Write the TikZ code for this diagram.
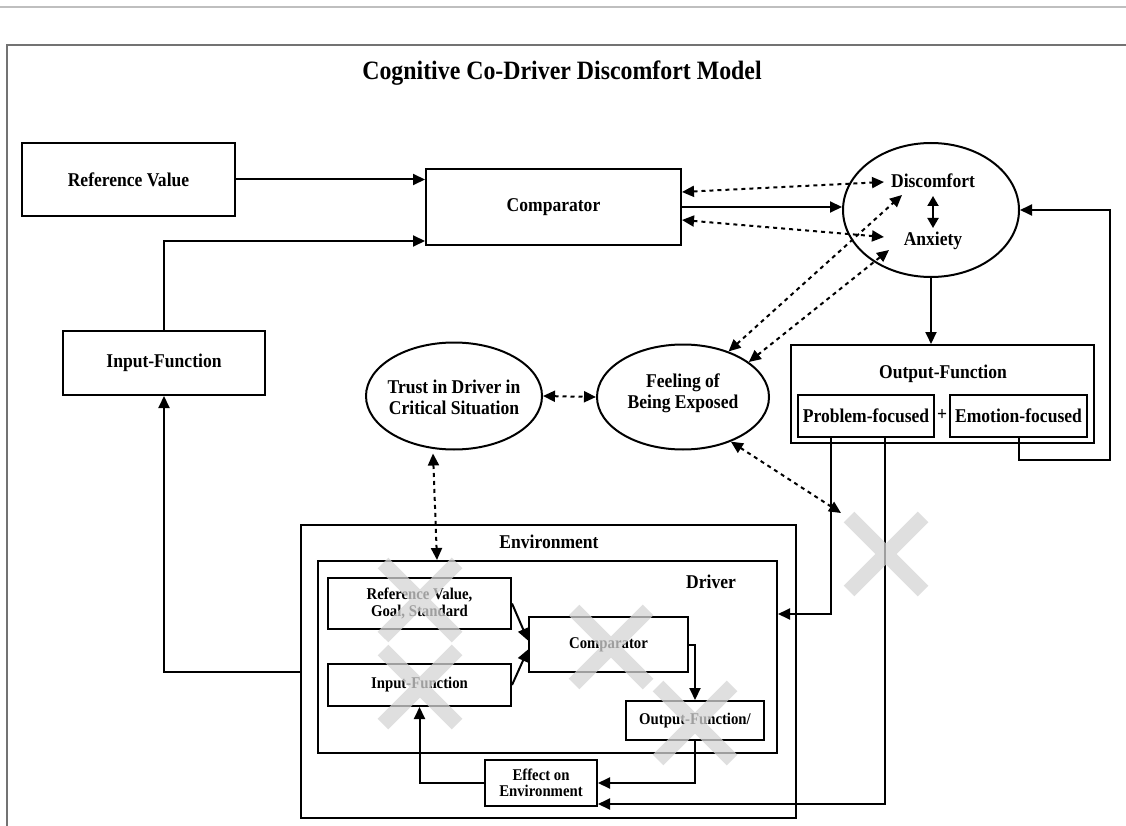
\documentclass[tikz,border=0pt]{standalone}
\usepackage{fontspec}
\setmainfont{Liberation Serif}[FakeStretch=0.9]
\usetikzlibrary{arrows.meta,shapes.geometric,calc}

\begin{document}
\begin{tikzpicture}[x=1pt,y=-1pt,
  box/.style={draw, line width=2pt, rectangle, inner sep=0pt},
  oval/.style={draw, line width=2pt, ellipse, inner sep=0pt},
  txt/.style={font=\fontsize{19.5}{21}\selectfont\bfseries, align=center, inner sep=1pt},
  small/.style={font=\fontsize{16.4}{16.5}\selectfont\bfseries, align=center, inner sep=1pt},
  tip/.tip={Triangle[length=12pt,width=11pt]},
  arr/.style={line width=2pt, -tip},
  darr/.style={line width=2pt, dash pattern=on 4pt off 4pt, tip-tip},
  sarr/.style={line width=2pt, tip-tip},
  xmark/.style={line width=15pt, draw=black!17, opacity=0.75}
]
\useasboundingbox (0,0) rectangle (1126,826);

% page rules and frame
\draw[black!25, line width=1.5pt] (0,7) -- (1126,7);
\draw[black!55, line width=2.5pt] (7,826) -- (7,45) -- (1126,45);

% title
\node[txt, font=\fontsize{26.5}{28}\selectfont\bfseries] (title) at (562,73) {Cognitive Co-Driver Discomfort Model};

% upper loop
\node[box, txt, minimum width=213pt, minimum height=73pt] (refv) at (128.5,179.5) {Reference Value};
\node[box, txt, minimum width=255pt, minimum height=76pt] (comp) at (553.5,207) {Comparator};
\node[box, txt, minimum width=202pt, minimum height=64pt] (inf) at (164,363) {Input-Function};

\node[oval, minimum width=176pt, minimum height=134pt] (disc) at (931,210) {};
\node[txt] (discT) at (933,181) {Discomfort};
\node[txt] (anxT) at (933,241) {Anxiety};

\node[box, minimum width=303pt, minimum height=98pt] (outf) at (942.5,394) {};
\node[txt] (outfL) at (943,374) {Output-Function};
\node[box, txt, minimum width=136pt, minimum height=42pt] (prob) at (866,416) {Problem-focused};
\node[box, txt, minimum width=137pt, minimum height=42pt] (emo) at (1018.5,416) {Emotion-focused};
\node[txt] (plus) at (942,415) {+};

\node[oval, minimum width=176pt, minimum height=107pt] (trust) at (454,396) {};
\node[txt] (trustT) at (454,397) {Trust in Driver in\\Critical Situation};
\node[oval, minimum width=172pt, minimum height=105pt] (feel) at (683,397) {};
\node[txt] (feelT) at (683,393) {Feeling of\\Being Exposed};

% environment and driver
\node[box, minimum width=495pt, minimum height=293pt] (env) at (548.5,671.5) {};
\node[txt] (envL) at (549,542) {Environment};
\node[box, minimum width=459pt, minimum height=192pt] (drv) at (547.5,657) {};
\node[txt] (drvL) at (711,582) {Driver};
\node[box, small, minimum width=183pt, minimum height=51pt] (iref) at (419.5,603.5) {Reference Value,\\Goal, Standard};
\node[box, small, minimum width=183pt, minimum height=42pt] (iinf) at (419.5,685) {Input-Function};
\node[box, small, minimum width=159pt, minimum height=55pt] (icomp) at (608.5,644.5) {Comparator};
\node[box, small, minimum width=138pt, minimum height=39pt] (iout) at (695,720.5) {Output-Function/};
\node[box, small, minimum width=112pt, minimum height=46pt] (eff) at (541,783) {Effect on\\Environment};

% free ends of the dotted links
\coordinate (cA) at ($(comp.north east)+(0,24)$);
\coordinate (cB) at ($(comp.north east)+(0,52)$);
\coordinate (dA) at (884,182);
\coordinate (aA) at (884,237);
\coordinate (dB) at (902,195);
\coordinate (aB) at (889,250);
\coordinate (fX) at (841,513);
\coordinate (tB) at ($(trust.south)+(-21,3)$);
\coordinate (dTop) at ($(drv.north west)+(120,0)$);

% solid connectors, upper loop
\draw[arr] (refv.east) -- (refv.east -| comp.west);
\draw[arr] (inf.north) |- ($(comp.west)+(0,34)$);
\draw[arr] (comp.east) -- (comp.east -| disc.west);
\draw[sarr, {Triangle[length=10pt,width=11pt]}-{Triangle[length=10pt,width=11pt]}] (933,196) -- (933,228);
\draw[arr] (disc.south) -- (disc.south |- outf.north);
\draw[arr] (emo.south) -- ++(0,22) -| ($(disc.east)+(90,0)$) -- (disc.east);
\draw[arr] ($(prob.south west)+(34,0)$) |- ($(drv.north east)+(0,54)$);
\draw[arr] ($(prob.south west)+(88,0)$) |- ($(eff.south east)+(0,-3)$);
\draw[arr] (env.west) -| (inf.south);

% dotted links
\draw[darr] (cA) -- (dA);
\draw[darr] (cB) -- (aA);
\draw[darr] (feel.45) -- (dB);
\draw[darr] (feel.28) -- (aB);
\draw[darr] (trust.east) -- (feel.west);
\draw[darr] (tB) -- (dTop);
\draw[darr] (feel.-43) -- (fX);

% driver loop
\draw[arr] (iref.east) -- ($(icomp.west)+(0,-4)$);
\draw[arr] (iinf.east) -- ($(icomp.west)+(0,5)$);
\draw[arr] (icomp.east) -| (iout.north);
\draw[arr] (iout.south) |- (eff.east);
\draw[arr] (eff.west) -| (iinf.south);

% crosses
\foreach \cx/\cy in {420/600, 420/687, 611/647, 695/723, 886/554}
  \draw[xmark] (\cx-37,\cy-37) -- (\cx+37,\cy+37) (\cx-37,\cy+37) -- (\cx+37,\cy-37);
\end{tikzpicture}
\end{document}
